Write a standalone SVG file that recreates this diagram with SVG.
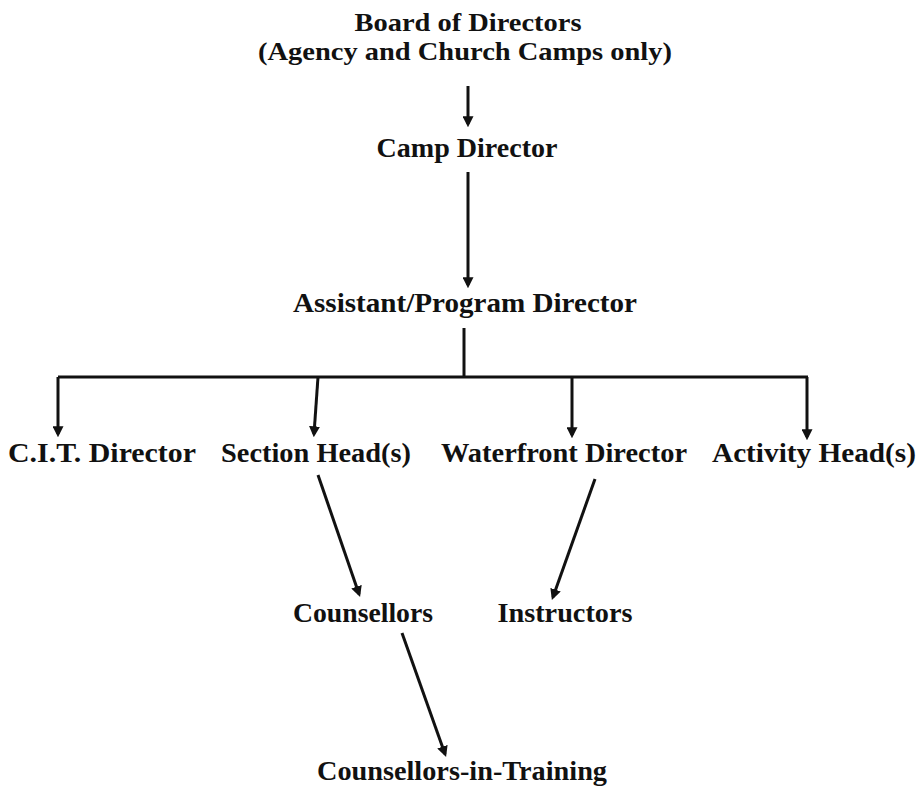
<svg xmlns="http://www.w3.org/2000/svg" width="922" height="788" viewBox="0 0 922 788">
<defs>
<style>
text{font-family:"Liberation Serif","DejaVu Serif",serif;font-weight:bold;font-size:27px;fill:#111;text-anchor:middle}
text.t{font-size:25px}
.c line,.c path{stroke:#111;stroke-width:3;fill:none}
</style>
<marker id="ah" viewBox="0 0 10 10" refX="7" refY="5" markerWidth="11" markerHeight="11" markerUnits="userSpaceOnUse" orient="auto">
<path d="M0,0 L10,5 L0,10 z" fill="#111"/>
</marker>
</defs>
<rect width="922" height="788" fill="#fff"/>
<g id="board"><text class="t" x="468" y="31" textLength="227" lengthAdjust="spacingAndGlyphs">Board of Directors</text>
<text class="t" x="465" y="60" textLength="414" lengthAdjust="spacingAndGlyphs">(Agency and Church Camps only)</text></g>
<g id="camp"><text x="467" y="157" textLength="181" lengthAdjust="spacingAndGlyphs">Camp Director</text></g>
<g id="assistant"><text x="465" y="312" textLength="344" lengthAdjust="spacingAndGlyphs">Assistant/Program Director</text></g>
<g id="cit"><text x="102" y="462" textLength="188" lengthAdjust="spacingAndGlyphs">C.I.T. Director</text></g>
<g id="section"><text x="316" y="462" textLength="190" lengthAdjust="spacingAndGlyphs">Section Head(s)</text></g>
<g id="waterfront"><text x="564" y="462" textLength="246" lengthAdjust="spacingAndGlyphs">Waterfront Director</text></g>
<g id="activity"><text x="814" y="462" textLength="204" lengthAdjust="spacingAndGlyphs">Activity Head(s)</text></g>
<g id="counsellors"><text x="363" y="622" textLength="140" lengthAdjust="spacingAndGlyphs">Counsellors</text></g>
<g id="instructors"><text x="565" y="622" textLength="135" lengthAdjust="spacingAndGlyphs">Instructors</text></g>
<g id="cits"><text x="462" y="780" textLength="290" lengthAdjust="spacingAndGlyphs">Counsellors-in-Training</text></g>
<g class="c" id="connectors">
<line x1="468" y1="86" x2="468" y2="124" marker-end="url(#ah)"/>
<line x1="468" y1="172" x2="468" y2="285" marker-end="url(#ah)"/>
<line x1="464" y1="328" x2="464" y2="377"/>
<line x1="58" y1="377" x2="808" y2="377"/>
<line x1="58" y1="377" x2="58" y2="434" marker-end="url(#ah)"/>
<line x1="318" y1="377" x2="314" y2="434" marker-end="url(#ah)"/>
<line x1="572" y1="377" x2="572" y2="435" marker-end="url(#ah)"/>
<line x1="807" y1="377" x2="807" y2="437" marker-end="url(#ah)"/>
<line x1="318" y1="475" x2="359" y2="594" marker-end="url(#ah)"/>
<line x1="595" y1="479" x2="553" y2="597" marker-end="url(#ah)"/>
<line x1="402" y1="633" x2="445" y2="754" marker-end="url(#ah)"/>
</g>
</svg>
